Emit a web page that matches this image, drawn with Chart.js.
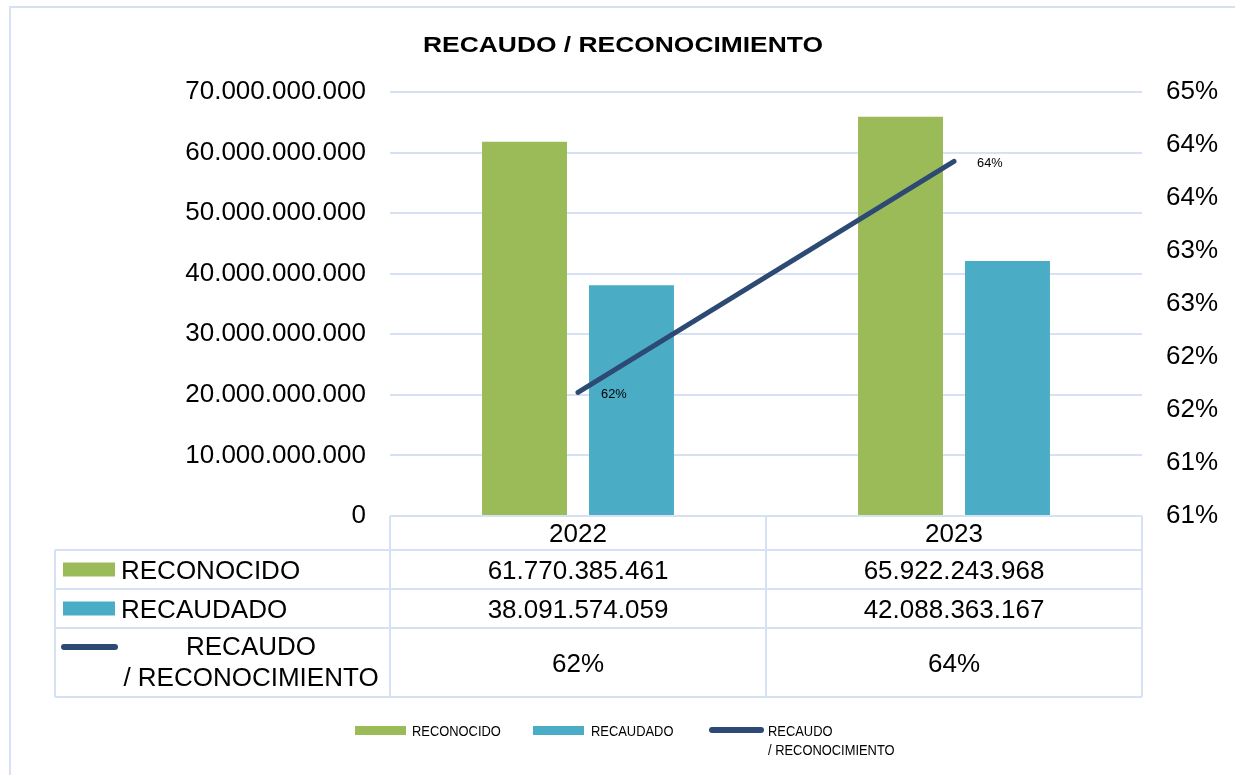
<!DOCTYPE html>
<html><head><meta charset="utf-8">
<script src="https://cdn.jsdelivr.net/npm/chart.js@4/dist/chart.umd.min.js"></script>
<style>html,body{margin:0;padding:0;background:#fff;} #wrap{width:1235px;height:775px;position:relative;}</style>
</head><body><div id="wrap"><canvas id="c" width="1235" height="775"></canvas></div>
<script>
// ---- data ----
const chartTitle = 'RECAUDO / RECONOCIMIENTO';
const categories = ['2022', '2023'];
const seriesNames = ['RECONOCIDO', 'RECAUDADO', 'RECAUDO / RECONOCIMIENTO'];
const reconocido = [61770385461, 65922243968];
const recaudado = [38091574059, 42088363167];
const ratioPct = [61.666, 63.846];
const ratioLabels = ['62%', '64%'];
const leftTickLabels = ['0', '10.000.000.000', '20.000.000.000', '30.000.000.000', '40.000.000.000', '50.000.000.000', '60.000.000.000', '70.000.000.000'];
const rightTickLabels = ['61%', '61%', '62%', '62%', '63%', '63%', '64%', '64%', '65%'];

// ---- styles ----
const GREEN = '#9BBB59', BLUE = '#4BACC6', NAVY = '#2C4A74', GRID = '#D6E2F3';
const FONT = "'Liberation Sans', Arial, sans-serif";

function fmt(n) { return String(n).replace(/\B(?=(\d{3})+(?!\d))/g, '.'); }

function txt(ctx, s, x, y, size, align, bold, sx) {
  ctx.save();
  ctx.font = (bold ? 'bold ' : '') + size + 'px ' + FONT;
  ctx.fillStyle = '#000';
  ctx.textBaseline = 'alphabetic';
  ctx.translate(x, y + size * 0.358);
  ctx.scale(sx || 1, 1);
  ctx.textAlign = align;
  ctx.fillText(s, 0, 0);
  ctx.restore();
}

const decor = {
  id: 'decor',
  beforeDraw(chart) {
    const ctx = chart.ctx;
    ctx.save();
    ctx.fillStyle = '#fff';
    ctx.fillRect(0, 0, chart.width, chart.height);
    ctx.strokeStyle = GRID;
    ctx.lineWidth = 2;
    ctx.strokeRect(10, 7, 1400, 1000);
    ctx.restore();
  },
  afterDraw(chart) {
    const ctx = chart.ctx;
    const area = chart.chartArea;
    const xs = chart.scales.x;
    // title
    txt(ctx, chartTitle, 623, 44.5, 22, 'center', true, 1.2);

    // data labels on line
    const lm = chart.getDatasetMeta(2);
    lm.data.forEach((p, i) => {
      txt(ctx, ratioLabels[i], p.x + 23, p.y + 1, 13.5, 'left', false, 0.95);
    });

    // table
    const L = 55, X0 = area.left, X2 = area.right;
    const rows = [area.bottom, 550, 589, 628, 697];
    const cw = (X2 - X0) / categories.length;
    ctx.save();
    ctx.strokeStyle = GRID;
    ctx.lineWidth = 2;
    ctx.beginPath();
    ctx.moveTo(X0, rows[0]); ctx.lineTo(X2, rows[0]);
    for (let r = 1; r < rows.length; r++) { ctx.moveTo(L, rows[r]); ctx.lineTo(X2, rows[r]); }
    for (let c = 0; c <= categories.length; c++) {
      ctx.moveTo(X0 + c * cw, rows[0]); ctx.lineTo(X0 + c * cw, rows[4]);
    }
    ctx.moveTo(L, rows[1]); ctx.lineTo(L, rows[4]);
    ctx.stroke();
    ctx.restore();

    const cy = i => (rows[i] + rows[i + 1]) / 2;
    categories.forEach((cat, i) => {
      const cx = xs.getPixelForValue(i);
      txt(ctx, cat, cx, cy(0), 26, 'center');
      txt(ctx, fmt(reconocido[i]), cx, cy(1), 26, 'center');
      txt(ctx, fmt(recaudado[i]), cx, cy(2), 26, 'center');
      txt(ctx, ratioLabels[i], cx, cy(3), 26, 'center');
    });
    // left column legend keys
    ctx.save();
    ctx.fillStyle = GREEN; ctx.fillRect(63, cy(1) - 7, 52, 14);
    ctx.fillStyle = BLUE; ctx.fillRect(63, cy(2) - 7, 52, 14);
    ctx.strokeStyle = NAVY; ctx.lineWidth = 6; ctx.lineCap = 'round';
    ctx.beginPath(); ctx.moveTo(64, 647); ctx.lineTo(115, 647); ctx.stroke();
    ctx.restore();
    txt(ctx, seriesNames[0], 121, cy(1), 26, 'left');
    txt(ctx, seriesNames[1], 121, cy(2), 26, 'left');
    const parts = seriesNames[2].split(' / ');
    txt(ctx, parts[0], 251, 646, 26, 'center');
    txt(ctx, '/ ' + parts[1], 251, 677, 26, 'center');

    // bottom legend
    ctx.save();
    ctx.fillStyle = GREEN; ctx.fillRect(355, 726, 51, 9);
    ctx.fillStyle = BLUE; ctx.fillRect(533, 726, 51, 9);
    ctx.strokeStyle = NAVY; ctx.lineWidth = 6; ctx.lineCap = 'round';
    ctx.beginPath(); ctx.moveTo(712, 730); ctx.lineTo(761, 730); ctx.stroke();
    ctx.restore();
    txt(ctx, seriesNames[0], 412, 731, 15, 'left', false, 0.86);
    txt(ctx, seriesNames[1], 591, 731, 15, 'left', false, 0.86);
    txt(ctx, parts[0], 768, 731, 15, 'left', false, 0.86);
    txt(ctx, '/ ' + parts[1], 768, 750, 15, 'left', false, 0.86);
  }
};

new Chart(document.getElementById('c'), {
  type: 'bar',
  data: {
    labels: categories,
    datasets: [
      { label: seriesNames[0], data: reconocido, backgroundColor: GREEN, yAxisID: 'y', order: 1,
        categoryPercentage: 0.569, barPercentage: 0.794, borderWidth: 0 },
      { label: seriesNames[1], data: recaudado, backgroundColor: BLUE, yAxisID: 'y', order: 1,
        categoryPercentage: 0.569, barPercentage: 0.794, borderWidth: 0 },
      { type: 'line', label: seriesNames[2], data: ratioPct, yAxisID: 'y1', order: 0,
        borderColor: NAVY, borderWidth: 5, borderCapStyle: 'round', pointRadius: 0, tension: 0, fill: false }
    ]
  },
  options: {
    responsive: false,
    animation: false,
    devicePixelRatio: 1,
    layout: { padding: { top: 92, bottom: 259, left: 0, right: 0 } },
    plugins: { legend: { display: false }, tooltip: { enabled: false }, title: { display: false } },
    scales: {
      x: { display: false },
      y: {
        position: 'left', min: 0, max: 70000000000,
        ticks: { stepSize: 10000000000, padding: 24, color: '#000', font: { family: FONT, size: 26 },
                 callback: (v, i) => leftTickLabels[i] },
        grid: { color: GRID, lineWidth: 2, drawTicks: false },
        border: { display: false },
        afterFit: s => { s.width = 390; }
      },
      y1: {
        position: 'right', min: 60.5, max: 64.5,
        ticks: { stepSize: 0.5, padding: 24, color: '#000', font: { family: FONT, size: 26 },
                 callback: (v, i) => rightTickLabels[i] },
        grid: { display: false, drawTicks: false },
        border: { display: false },
        afterFit: s => { s.width = 93; }
      }
    }
  },
  plugins: [decor]
});
</script>
</body></html>
